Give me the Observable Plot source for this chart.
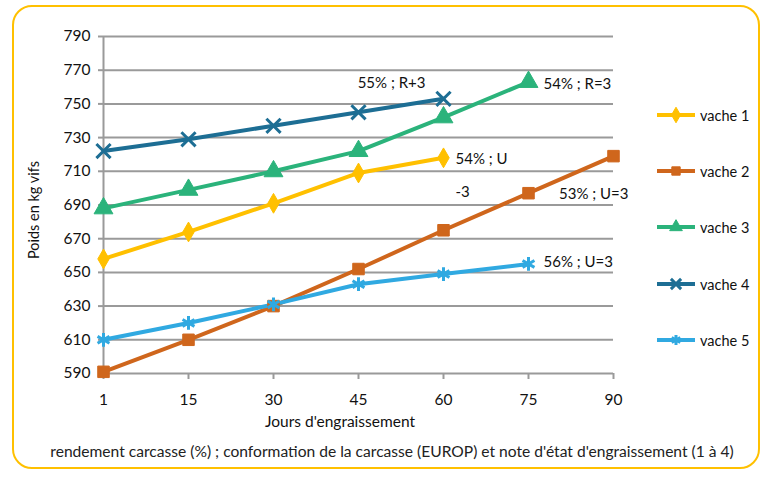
<!DOCTYPE html>
<html><head><meta charset="utf-8">
<script src="https://cdn.jsdelivr.net/npm/d3@7"></script>
<script src="https://cdn.jsdelivr.net/npm/@observablehq/plot@0.6"></script>
<style>
body{margin:0;background:#fff;font-family:Lato,"Open Sans",sans-serif;color:#111;}
#wrap{position:relative;width:766px;height:479px;overflow:hidden;background:#fff;}
#frame{position:absolute;left:12px;top:5px;width:748px;height:464px;border:2.5px solid #FFC000;border-radius:20px;box-sizing:border-box;}
#chart{position:absolute;left:0;top:0;}
.lbl{position:absolute;white-space:nowrap;}
#ytitle{left:33px;top:210px;font-size:14.5px;transform:translate(-50%,-50%) rotate(-90deg);}
#xtitle{left:340px;top:421px;font-size:15.5px;transform:translate(-50%,-50%);}
#caption{left:392px;top:451px;font-size:15.6px;transform:translate(-50%,-50%);color:#222;}
.leg{position:absolute;left:655px;height:20px;display:flex;align-items:center;font-size:14.5px;transform:translateY(-50%);}
.leg svg{margin-right:3px;}
</style>
</head><body>
<div id="wrap">
  <div id="frame"></div>
  <div id="chart"></div>
  <div class="lbl" id="ytitle"></div>
  <div class="lbl" id="xtitle"></div>
  <div class="lbl" id="caption"></div>
  <div id="legend"></div>
</div>
<script>
// ---- data ----
const days = ["1", "15", "30", "45", "60", "75", "90"];
const seriesNames = ["vache 1", "vache 2", "vache 3", "vache 4", "vache 5"];
const vache1 = [658, 674, 691, 709, 718];
const vache2 = [591, 610, 630, 652, 675, 697, 719];
const vache3 = [688, 699, 710, 722, 742, 763];
const vache4 = [722, 729, 737, 745, 753];
const vache5 = [610, 620, 631, 643, 649, 655];
const endLabels = ["54% ; U\n-3", "53% ; U=3", "54% ; R=3", "55% ; R+3", "56% ; U=3"];
const yTicks = [590, 610, 630, 650, 670, 690, 710, 730, 750, 770, 790];
const yTitle = "Poids en kg vifs";
const xTitle = "Jours d'engraissement";
const caption = "rendement carcasse (%) ; conformation de la carcasse (EUROP) et note d'état d'engraissement (1 à 4)";

// ---- styles ----
const colors = ["#FFC000", "#CF661C", "#2BB37B", "#1D6E94", "#30A9E1"];
const symbols = ["diamond", "square", "triangle", "times", "asterisk"];
const filled = [true, true, true, false, false];
const labelStyle = [
  {dx: 12, dy: 12, anchor: "start", lineHeight: 2.25},
  {dx: 15, dy: 38, anchor: "end"},
  {dx: 15, dy: 2, anchor: "start"},
  {dx: -18, dy: -16, anchor: "end"},
  {dx: 15, dy: -2, anchor: "start"}
];

const allValues = [vache1, vache2, vache3, vache4, vache5];
const rows = allValues.flatMap((vals, i) => vals.map((v, j) => ({serie: seriesNames[i], day: days[j], weight: v})));
const grid = "#9a9a9a";

const marks = [
  Plot.ruleY(yTicks, {stroke: grid, strokeWidth: 2}),
  Plot.ruleX([days[0]], {stroke: grid, strokeWidth: 2}),
  Plot.axisY({ticks: yTicks, tickSize: 5, tickPadding: 8, stroke: grid, strokeWidth: 2, label: null, fontSize: 15.5, fill: "#111"}),
  Plot.axisX({tickSize: 6, tickPadding: 14, stroke: grid, strokeWidth: 2, label: null, fontSize: 15.5, fill: "#111"}),
  Plot.line(rows, {x: "day", y: "weight", z: "serie", stroke: "serie", strokeWidth: 4})
];
seriesNames.forEach((name, i) => {
  const pts = rows.filter(d => d.serie === name);
  marks.push(Plot.dot(pts, {
    x: "day", y: "weight", symbol: () => symbols[i], r: symbols[i] === "triangle" ? 7 : (symbols[i] === "diamond" ? 6 : 6.5),
    fill: filled[i] ? colors[i] : "none", stroke: colors[i], strokeWidth: filled[i] ? 1 : 3
  }));
  const last = pts[pts.length - 1];
  const st = labelStyle[i];
  marks.push(Plot.text([last], {
    x: "day", y: "weight", text: () => endLabels[i], dx: st.dx, dy: st.dy,
    textAnchor: st.anchor, lineAnchor: "middle", lineHeight: st.lineHeight || 1, fontSize: 15, fill: "#111"
  }));
});

const chart = Plot.plot({
  width: 766, height: 400,
  marginTop: 36, marginBottom: 27, marginLeft: 103, marginRight: 153,
  style: {fontFamily: "Lato, 'Open Sans', sans-serif", background: "transparent", overflow: "visible"},
  x: {type: "point", domain: days, padding: 0},
  y: {domain: [590, 790]},
  color: {domain: seriesNames, range: colors},
  symbol: {domain: symbols, range: symbols},
  marks
});
document.getElementById("chart").append(chart);
document.getElementById("ytitle").textContent = yTitle;
document.getElementById("xtitle").textContent = xTitle;
document.getElementById("caption").textContent = caption;

// legend
const legendY = [115, 171, 227, 284, 340];
const legend = document.getElementById("legend");
seriesNames.forEach((name, i) => {
  const item = document.createElement("div");
  item.className = "leg";
  item.style.top = legendY[i] + "px";
  const svg = d3.create("svg").attr("width", 42).attr("height", 16);
  svg.append("line").attr("x1", 2).attr("x2", 40).attr("y1", 8).attr("y2", 8).attr("stroke", colors[i]).attr("stroke-width", 4);
  const sym = {diamond: d3.symbolDiamond, square: d3.symbolSquare, triangle: d3.symbolTriangle, times: d3.symbolTimes, asterisk: d3.symbolAsterisk}[symbols[i]];
  svg.append("path").attr("transform", "translate(21,8)").attr("d", d3.symbol(sym, 70)())
    .attr("fill", filled[i] ? colors[i] : "none").attr("stroke", colors[i]).attr("stroke-width", filled[i] ? 1 : 3);
  item.append(svg.node());
  const t = document.createElement("span");
  t.textContent = name;
  item.append(t);
  legend.append(item);
});
</script>
</body></html>
